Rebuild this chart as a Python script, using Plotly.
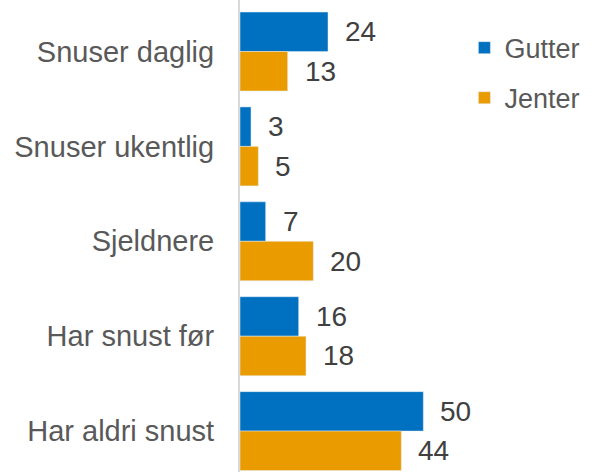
import plotly.graph_objects as go

categories = ["Snuser daglig", "Snuser ukentlig", "Sjeldnere", "Har snust før", "Har aldri snust"]
gutter = [24, 3, 7, 16, 50]
jenter = [13, 5, 20, 18, 44]

BLUE = "#0070C0"
ORANGE = "#E99B00"
FONT = "Liberation Sans, Arial, sans-serif"

pos = list(range(len(categories)))
half = 0.208  # offset of each bar centre within its category group

fig = go.Figure()
fig.add_trace(go.Bar(name="Gutter", y=pos, x=gutter, orientation="h",
                     marker_color=BLUE, legendgroup="g"))
fig.add_trace(go.Bar(name="Jenter", y=pos, x=jenter, orientation="h",
                     marker_color=ORANGE, legendgroup="j"))

# value labels to the right of each bar
for i, (g, j) in enumerate(zip(gutter, jenter)):
    for val, dy in ((g, -half), (j, half)):
        fig.add_annotation(x=val, y=i + dy, text=str(val), showarrow=False,
                           xanchor="left", yanchor="middle", xshift=15,
                           font=dict(family=FONT, size=28, color="#404040"))

fig.update_layout(
    width=597, height=472,
    margin=dict(l=240, r=137, t=0, b=0),
    paper_bgcolor="white", plot_bgcolor="white",
    barmode="group", bargap=0.168, bargroupgap=0,
    font=dict(family=FONT),
    legend=dict(x=1.02, y=0.95, xanchor="left", yanchor="top",
                font=dict(family=FONT, size=27, color="#595959"),
                tracegroupgap=12, traceorder="grouped"),
)
fig.update_xaxes(range=[0, 60], showgrid=False, zeroline=False,
                 showticklabels=False, ticks="")
fig.update_yaxes(range=[4.431, -0.543], tickvals=pos, ticktext=categories,
                 showgrid=False, zeroline=False,
                 showline=True, linecolor="#D9D9D9", linewidth=2,
                 ticks="outside", ticklen=18, tickcolor="rgba(0,0,0,0)",
                 tickfont=dict(family=FONT, size=29, color="#595959"))

fig.write_html("out.html")
